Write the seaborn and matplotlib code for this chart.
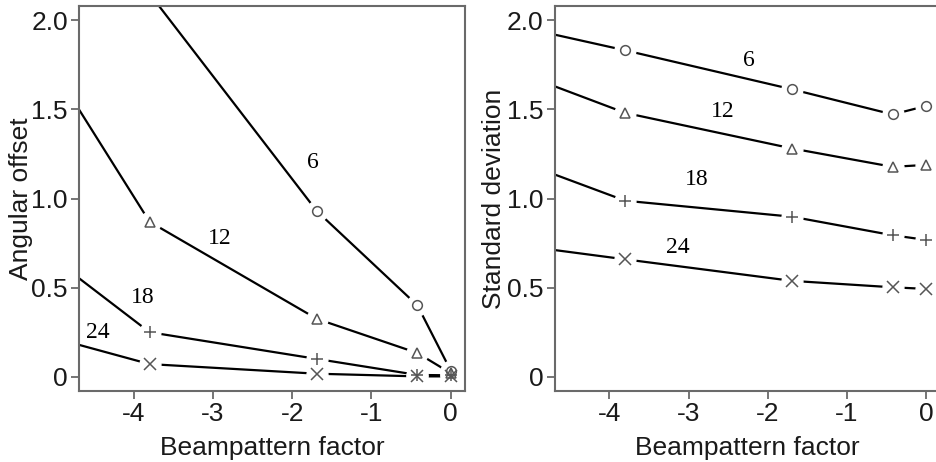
import matplotlib
matplotlib.use("Agg")
import matplotlib.pyplot as plt
import seaborn as sns
import pandas as pd

# ---- data ----
beam_x = [-4.69, -3.8, -1.69, -0.42, 0.0]
labels = ["6", "12", "18", "24"]
markers = ["o", "^", "+", "x"]

offset_6 = [2.77, 2.15, 0.93, 0.40, 0.034]
offset_12 = [1.50, 0.87, 0.325, 0.133, 0.02]
offset_18 = [0.553, 0.250, 0.100, 0.010, 0.008]
offset_24 = [0.179, 0.071, 0.017, 0.002, 0.002]

sd_6 = [1.920, 1.832, 1.613, 1.472, 1.520]
sd_12 = [1.630, 1.481, 1.281, 1.178, 1.189]
sd_18 = [1.135, 0.988, 0.898, 0.794, 0.768]
sd_24 = [0.711, 0.659, 0.538, 0.502, 0.493]

left_label_pos = [(-1.74, 1.20), (-2.92, 0.777), (-3.89, 0.444), (-4.45, 0.248)]
right_label_pos = [(-2.24, 1.776), (-2.57, 1.49), (-2.90, 1.109), (-3.13, 0.727)]

xticks = [-4, -3, -2, -1, 0]
xtick_labels = ["-4", "-3", "-2", "-1", "0"]
yticks = [0, 0.5, 1.0, 1.5, 2.0]
ytick_labels = ["0", "0.5", "1.0", "1.5", "2.0"]

sns.set_style("ticks")
plt.rcParams["font.family"] = ["Liberation Sans", "DejaVu Sans"]

fig = plt.figure(figsize=(9.37, 4.62), dpi=100)
axL = fig.add_axes([0.0843, 0.1537, 0.412, 0.833])
axR = fig.add_axes([0.592, 0.1537, 0.4115, 0.833])

spine_col = "#6a6a6a"
mark_col = "#555555"
text_col = "#1a1a1a"


def draw(ax, series, label_pos, ylabel, ylab_x):
    for i, (vals, mk, lab, pos) in enumerate(zip(series, markers, labels, label_pos)):
        df = pd.DataFrame({"x": beam_x, "y": vals})
        sns.lineplot(data=df, x="x", y="y", ax=ax, color="black", lw=1.6,
                     sort=False, estimator=None, zorder=2)
        ax.plot(beam_x[1:], vals[1:], ls="none", marker="o", ms=15,
                mfc="white", mec="white", zorder=3)
        ms = 8 if mk in ("+", "x") else 7
        ax.plot(beam_x[1:], vals[1:], ls="none", marker=mk, ms=ms,
                mfc="none", mec=mark_col, mew=1.1, zorder=4)
        ax.text(pos[0], pos[1], lab, family=["Liberation Serif", "DejaVu Serif"],
                fontsize=17, color="black", ha="center", va="center", zorder=20)
    ax.set_xlim(-4.69, 0.18)
    ax.set_ylim(-0.08, 2.08)
    ax.set_xticks(xticks)
    ax.set_xticklabels(xtick_labels)
    ax.set_yticks(yticks)
    ax.set_yticklabels(ytick_labels)
    ax.tick_params(axis="both", length=6, width=1.3, color=spine_col,
                   labelsize=19, labelcolor=text_col, pad=2)
    for s in ax.spines.values():
        s.set_visible(True)
        s.set_color(spine_col)
        s.set_linewidth(1.5)
    ax.set_xlabel("Beampattern factor", fontsize=19, color=text_col)
    ax.set_ylabel(ylabel, fontsize=19, color=text_col)
    ax.xaxis.set_label_coords(0.5, -0.118)
    ax.yaxis.set_label_coords(ylab_x, 0.5)


draw(axL, [offset_6, offset_12, offset_18, offset_24], left_label_pos, "Angular offset", -0.119)
draw(axR, [sd_6, sd_12, sd_18, sd_24], right_label_pos, "Standard deviation", -0.127)

fig.savefig("out.png", dpi=100)
